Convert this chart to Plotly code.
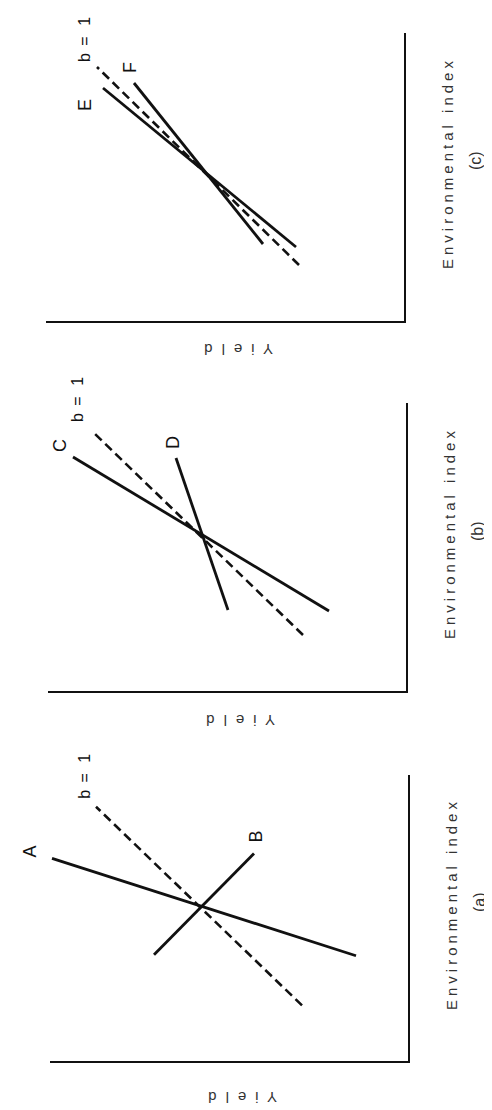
import plotly.graph_objects as go

# ---- data (original, un-rotated coordinates: env index -> yield) ----
panels = ["a", "b", "c"]

# panel (a)
a_A_env = [106, 204]
a_A_yld = [52, 356]
a_B_env = [107, 209]
a_B_yld = [254, 154]
a_b1_env = [56, 256]
a_b1_yld = [106, 312]

# panel (b)
b_C_env = [80, 234]
b_C_yld = [77, 333]
b_D_env = [81, 233]
b_D_yld = [178, 230]
b_b1_env = [56, 257]
b_b1_yld = [103, 311]

# panel (c)
c_E_env = [74, 233]
c_E_yld = [108, 301]
c_F_env = [77, 238]
c_F_yld = [141, 270]
c_b1_env = [56, 254]
c_b1_yld = [105, 307]

yield_max = 358
env_max = 288

W, H = 492, 1110

# layout: pixel boxes for each panel (left, right, top, bottom)
boxes = {
    "a": (42, 400, 767, 1053),
    "b": (40, 398, 395, 683),
    "c": (38, 396, 25, 313),
}
yield_label_gap = {"a": 37, "b": 30, "c": 29}

series = {
    "a": [
        ("A", a_A_env, a_A_yld, "solid", (-22, 7)),
        ("B", a_B_env, a_B_yld, "solid", (2, 17)),
        ("b = 1", a_b1_env, a_b1_yld, "dash", (-11, 30)),
    ],
    "b": [
        ("C", b_C_env, b_C_yld, "solid", (-13, 11)),
        ("D", b_D_env, b_D_yld, "solid", (-3, 15)),
        ("b = 1", b_b1_env, b_b1_yld, "dash", (-17, 34)),
    ],
    "c": [
        ("E", c_E_env, c_E_yld, "solid", (-18, -17)),
        ("F", c_F_env, c_F_yld, "solid", (-4, 15)),
        ("b = 1", c_b1_env, c_b1_yld, "dash", (-12, 27)),
    ],
}

FONT = "Liberation Sans, Arial, sans-serif"

fig = go.Figure()
annotations = []
layout_axes = {}

for i, p in enumerate(panels):
    n = "" if i == 0 else str(i + 1)
    xa, ya = "x" + n, "y" + n
    left, right, top, bottom = boxes[p]
    layout_axes["xaxis" + n] = dict(
        domain=[left / W, right / W],
        range=[yield_max, 0],
        anchor=ya,
        showline=True, linecolor="#111", linewidth=2,
        showgrid=False, zeroline=False, showticklabels=False, ticks="",
        fixedrange=True,
    )
    layout_axes["yaxis" + n] = dict(
        domain=[1 - bottom / H, 1 - top / H],
        range=[0, env_max],
        anchor=xa, side="right",
        showline=True, linecolor="#111", linewidth=2,
        showgrid=False, zeroline=False, showticklabels=False, ticks="",
        fixedrange=True,
    )
    for name, env, yld, dash, (dx, dy) in series[p]:
        fig.add_trace(go.Scatter(
            x=yld, y=env, mode="lines", xaxis=xa, yaxis=ya,
            line=dict(color="#111", width=2.8 if dash == "solid" else 2.6,
                      dash="solid" if dash == "solid" else "9px,5px"),
            showlegend=False, hoverinfo="skip",
        ))
        # label at the upper end (highest env index) of each line
        k = 0 if env[0] > env[1] else 1
        txt = name if name != "b = 1" else "b<span style='letter-spacing:3px'> = </span>1"
        annotations.append(dict(
            x=yld[k], y=env[k], xref=xa, yref=ya, text=txt,
            showarrow=False, textangle=-90, xshift=dx, yshift=dy,
            xanchor="center", yanchor="middle",
            font=dict(family=FONT, size=18 if name != "b = 1" else 16, color="#111"),
        ))
    # axis titles
    annotations.append(dict(
        x=1, y=0.5, xref=xa + " domain", yref=ya + " domain",
        text="<span style='letter-spacing:4px'>Environmental index</span>",
        showarrow=False, textangle=-90, xshift=43, yshift=14,
        xanchor="center", yanchor="middle",
        font=dict(family=FONT, size=15, color="#333"),
    ))
    annotations.append(dict(
        x=1, y=0.5, xref=xa + " domain", yref=ya + " domain",
        text="(%s)" % p,
        showarrow=False, textangle=-90, xshift=71, yshift=16,
        xanchor="center", yanchor="middle",
        font=dict(family=FONT, size=16, color="#333"),
    ))
    annotations.append(dict(
        x=0.5, y=0, xref=xa + " domain", yref=ya + " domain",
        text="<span style='letter-spacing:9px'>Yield</span>",
        showarrow=False, textangle=180, xshift=9, yshift=-yield_label_gap[p],
        xanchor="center", yanchor="middle",
        font=dict(family=FONT, size=15, color="#333"),
    ))

fig.update_layout(
    width=W, height=H,
    margin=dict(l=0, r=0, t=0, b=0),
    paper_bgcolor="white", plot_bgcolor="white",
    annotations=annotations,
    **layout_axes,
)

fig.write_html("out.html")
